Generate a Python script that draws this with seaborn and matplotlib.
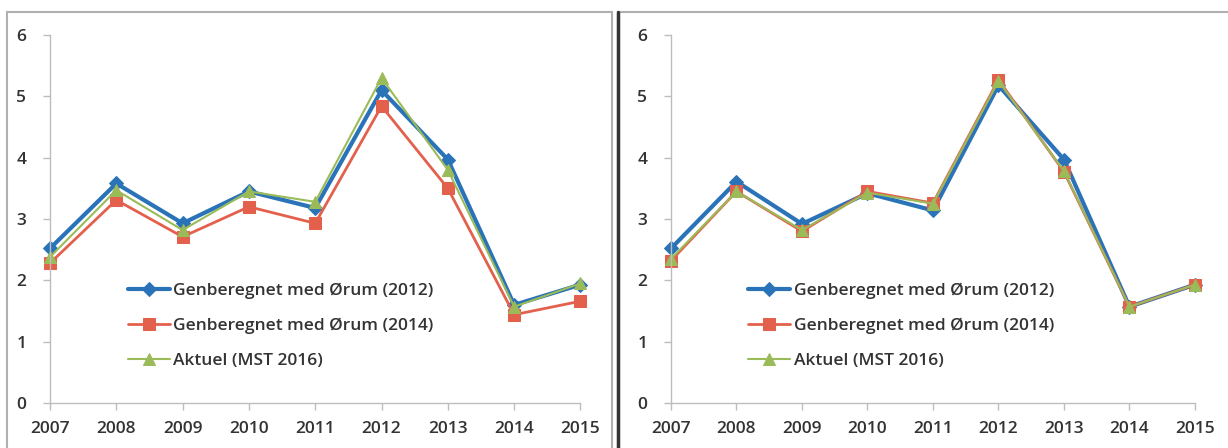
import seaborn as sns
from matplotlib import pyplot as plt
from matplotlib.patches import Rectangle
import pandas as pd

sns.set_theme(style="white")
plt.rcParams["font.family"] = ["Open Sans", "DejaVu Sans"]

years = [2007, 2008, 2009, 2010, 2011, 2012, 2013, 2014, 2015]
labels = ["Genberegnet med Ørum (2012)", "Genberegnet med Ørum (2014)", "Aktuel (MST 2016)"]

# left panel
left_2012 = [2.52, 3.58, 2.93, 3.45, 3.18, 5.10, 3.97, 1.60, 1.93]
left_2014 = [2.28, 3.31, 2.71, 3.20, 2.93, 4.84, 3.50, 1.44, 1.66]
left_aktuel = [2.38, 3.47, 2.82, 3.45, 3.28, 5.30, 3.80, 1.57, 1.95]

# right panel
right_2012 = [2.52, 3.61, 2.92, 3.42, 3.14, 5.18, 3.97, 1.57, 1.93]
right_2014 = [2.32, 3.45, 2.80, 3.45, 3.26, 5.27, 3.77, 1.57, 1.93]
right_aktuel = [2.35, 3.45, 2.82, 3.43, 3.25, 5.25, 3.78, 1.57, 1.93]

colors = ["#2a73b8", "#e3604c", "#9bbb59"]
markers = ["D", "s", "^"]
widths = [3.0, 2.0, 1.5]
msizes = [7, 9, 9]

fig = plt.figure(figsize=(12.28, 4.48), dpi=100)
ax1 = fig.add_axes([0.0407, 0.1004, 0.432, 0.8214])
ax2 = fig.add_axes([0.5464, 0.1004, 0.4267, 0.8214])

# panel frames
fig.add_artist(Rectangle((0.006, -0.01), 0.492, 0.983, transform=fig.transFigure,
                         fill=False, edgecolor="#b0b0b0", lw=1.5))
fig.add_artist(Rectangle((0.503, -0.01), 0.5, 0.983, transform=fig.transFigure,
                         fill=False, edgecolor="#b0b0b0", lw=1.5))
fig.add_artist(plt.Line2D([0.503, 0.503], [-0.01, 0.973], transform=fig.transFigure,
                          color="#333333", lw=2.5))

for ax, series in [(ax1, [left_2012, left_2014, left_aktuel]),
                   (ax2, [right_2012, right_2014, right_aktuel])]:
    for vals, lab, c, m, w, ms in zip(series, labels, colors, markers, widths, msizes):
        df = pd.DataFrame({"year": years, "value": vals})
        sns.lineplot(data=df, x="year", y="value", ax=ax, color=c, marker=m,
                     markersize=ms, markeredgecolor=c, linewidth=w, label=lab,
                     clip_on=False)
    ax.set_xlim(2007, 2015)
    ax.set_ylim(0, 6)
    ax.set_xticks(years)
    ax.set_yticks(range(0, 7))
    ax.set_xlabel("")
    ax.set_ylabel("")
    for s in ["top", "right"]:
        ax.spines[s].set_visible(False)
    for s in ["left", "bottom"]:
        ax.spines[s].set_color("#bdbdbd")
        ax.spines[s].set_linewidth(1.0)
    ax.tick_params(axis="both", which="major", length=5, width=1, color="#bdbdbd",
                   labelsize=12.5, labelcolor="#333333", pad=8, bottom=True, left=True)
    ax.tick_params(axis="y", pad=12)
    for t in ax.get_xticklabels() + ax.get_yticklabels():
        t.set_fontweight("semibold")
    ax.legend(loc="upper left", bbox_to_anchor=(0.118, 0.37), frameon=False,
              handlelength=2.4, handletextpad=0.2, labelspacing=1.08,
              prop={"size": 12.5, "weight": "semibold"}, labelcolor="#333333")

fig.savefig("out.png", dpi=100)
